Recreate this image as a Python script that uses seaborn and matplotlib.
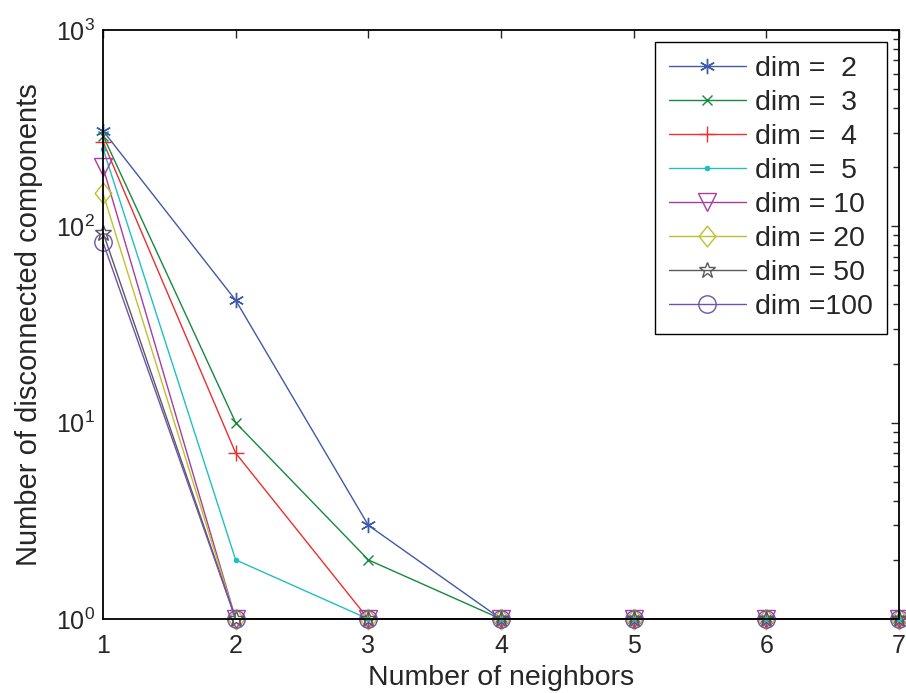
import seaborn as sns
import pandas as pd
import matplotlib.pyplot as plt

neighbors = [1, 2, 3, 4, 5, 6, 7]
dim2 = [307, 42, 3, 1, 1, 1, 1]
dim3 = [290, 10, 2, 1, 1, 1, 1]
dim4 = [270, 7, 1, 1, 1, 1, 1]
dim5 = [249, 2, 1, 1, 1, 1, 1]
dim10 = [200, 1, 1, 1, 1, 1, 1]
dim20 = [147, 1, 1, 1, 1, 1, 1]
dim50 = [93, 1, 1, 1, 1, 1, 1]
dim100 = [83, 1, 1, 1, 1, 1, 1]
labels = ['dim =  2', 'dim =  3', 'dim =  4', 'dim =  5',
          'dim = 10', 'dim = 20', 'dim = 50', 'dim =100']

sns.set_style("white")
plt.rcParams['font.family'] = ['Liberation Sans', 'DejaVu Sans']
plt.rcParams['mathtext.fontset'] = 'custom'
plt.rcParams['mathtext.rm'] = 'Liberation Sans'

series = [dim2, dim3, dim4, dim5, dim10, dim20, dim50, dim100]
colors = ['#3f5aa8', '#17883e', '#ee2e2e', '#1fc0c0',
          '#a83ca0', '#c0c02e', '#5a5a5a', '#6e52b0']
diamond = [(0, 1), (0.8, 0), (0, -1), (-0.8, 0), (0, 1)]
markers = [(6, 2, 0), 'x', '+', '.', 'v', diamond, '*', 'o']
sizes = [11, 7.5, 12, 6, 13.5, 15, 12, 12.5]

fig = plt.figure(figsize=(9.06, 6.93), dpi=100)
ax = fig.add_axes([0.1137, 0.1068, 0.8786, 0.8499])

for ys, lab, c, m, s in zip(series, labels, colors, markers, sizes):
    df = pd.DataFrame({'k': neighbors, 'n': ys})
    sns.lineplot(data=df, x='k', y='n', ax=ax, color=c, marker=m, ms=s,
                 mfc=c if m == '.' else 'none', mec=c, mew=1.0, lw=1.0,
                 label=lab, clip_on=False)

ax.set_yscale('log')
ax.set_xlim(1, 7)
ax.set_ylim(1, 1000)
ax.set_xticks(neighbors)
ax.set_xlabel('Number of neighbors', fontsize=20.5, labelpad=5)
ax.set_ylabel('Number of disconnected components', fontsize=21, labelpad=9)
ax.tick_params(which='both', direction='in', top=True, right=True,
               labelsize=18, width=1)
ax.tick_params(axis='x', pad=11)
ax.tick_params(axis='y', pad=6)
ax.tick_params(which='major', length=6)
ax.tick_params(which='minor', length=4)
for sp in ax.spines.values():
    sp.set_color('black')
    sp.set_linewidth(1.3)

leg = ax.legend(loc='upper right', fontsize=20.5, frameon=True, fancybox=False,
                edgecolor='black', framealpha=1, handlelength=2.7,
                borderaxespad=0.42, labelspacing=0.28, handletextpad=0.32,
                borderpad=0.5)
leg.get_frame().set_linewidth(1.0)

fig.savefig('out.png', dpi=100, facecolor='white')
